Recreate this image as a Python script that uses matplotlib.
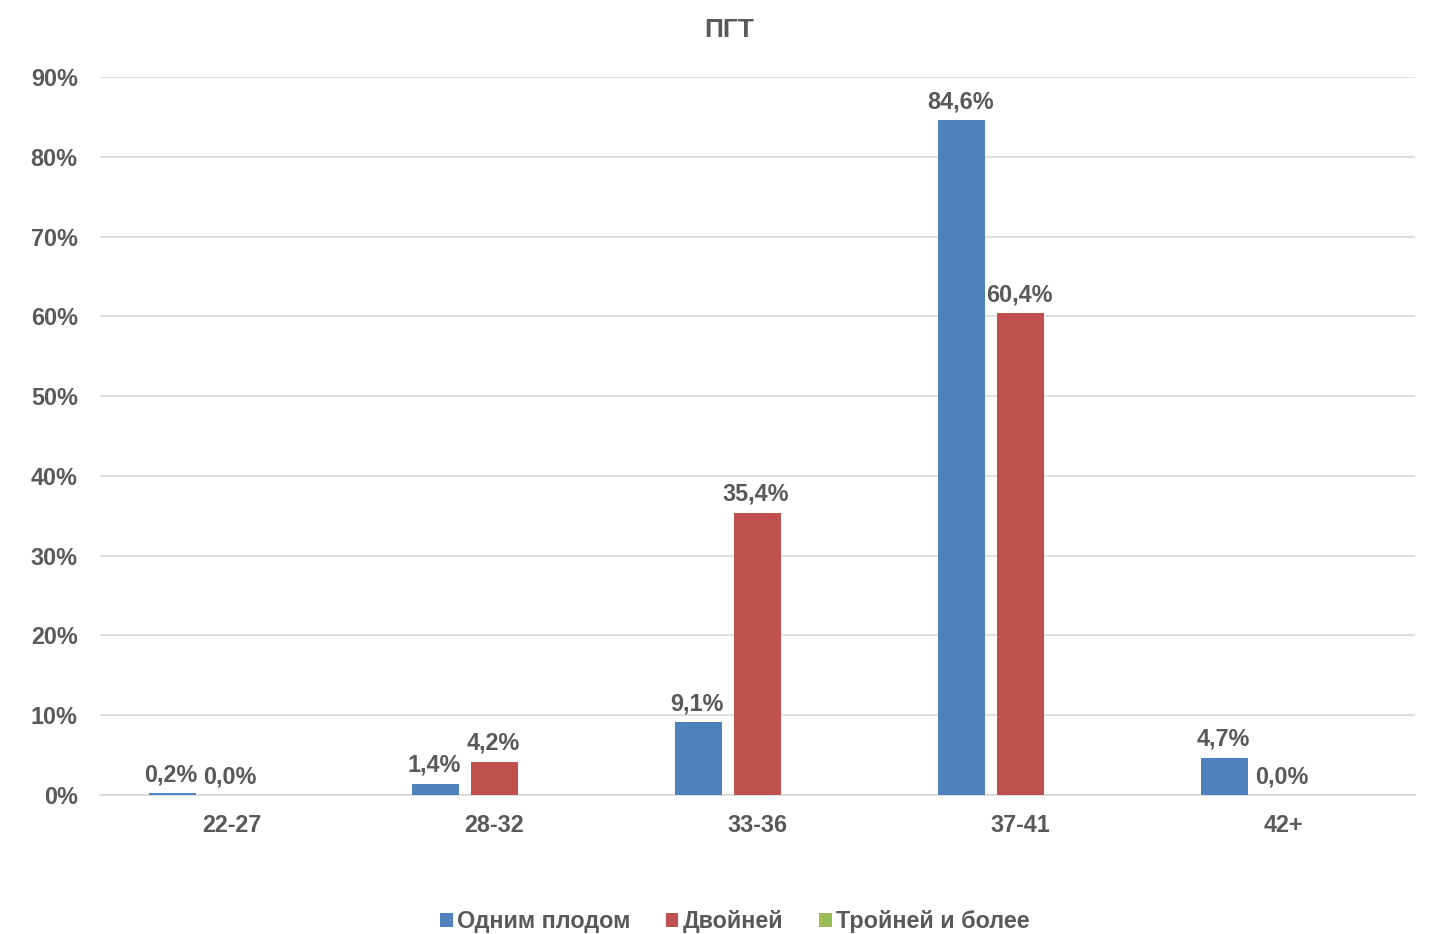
import numpy as np
import matplotlib
matplotlib.use("Agg")
import matplotlib.pyplot as plt
from matplotlib.patches import Patch

plt.rcParams['font.family'] = ['Liberation Sans', 'DejaVu Sans']

categories = ["22-27", "28-32", "33-36", "37-41", "42+"]
series_names = ["Одним плодом", "Двойней", "Тройней и более"]
single = [0.2, 1.4, 9.1, 84.6, 4.7]
twins = [0.0, 4.2, 35.4, 60.4, 0.0]
triplets = [np.nan, np.nan, np.nan, np.nan, np.nan]
colors = ["#4F81BD", "#C0504D", "#9BBB59"]
yticks = [0, 10, 20, 30, 40, 50, 60, 70, 80, 90]

text_color = "#595959"

fig = plt.figure(figsize=(14.55, 9.34), dpi=100)
ax = fig.add_axes([0.0687, 0.1488, 0.9038, 0.7688])

x = np.arange(len(categories))
offset = 0.224
width = 0.178
all_series = [single, twins, triplets]

for i, (vals, col) in enumerate(zip(all_series, colors)):
    pos = x + (i - 1) * offset
    v = np.array(vals, dtype=float)
    ax.bar(pos, np.nan_to_num(v), width=width, color=col, zorder=3)
    for p, val in zip(pos, v):
        if np.isnan(val):
            continue
        label = f"{val:.1f}%".replace(".", ",")
        ax.annotate(label, (p, val), xytext=(-1, 5), textcoords="offset points",
                    ha="center", va="bottom", fontsize=16.8, fontweight="bold",
                    color=text_color)

ax.set_xlim(-0.5, len(categories) - 0.5)
ax.set_ylim(0, 90)
ax.set_yticks(yticks)
ax.set_yticklabels([f"{t}%" for t in yticks])
ax.set_xticks(x)
ax.set_xticklabels(categories)
ax.tick_params(axis="both", length=0, labelsize=16.8, labelcolor=text_color)
ax.tick_params(axis="x", pad=13.5)
ax.tick_params(axis="y", pad=16)
for lab in ax.get_xticklabels() + ax.get_yticklabels():
    lab.set_fontweight("bold")

ax.grid(axis="y", color="#D9D9D9", linewidth=1.2, zorder=0)
for s in ["top", "right", "left"]:
    ax.spines[s].set_visible(False)
ax.spines["bottom"].set_color("#D9D9D9")
ax.spines["bottom"].set_linewidth(1.2)

fig.text(0.5015, 0.968, "ПГТ", ha="center", va="center", fontsize=19,
         fontweight="bold", color=text_color)

handles = [Patch(facecolor=c, label=n) for c, n in zip(colors, series_names)]
leg = fig.legend(handles=handles, loc="center", bbox_to_anchor=(0.505, 0.013),
                 ncol=3, frameon=False, fontsize=16.8, handlelength=0.55,
                 handleheight=0.55, handletextpad=0.2, columnspacing=1.5)
for t in leg.get_texts():
    t.set_fontweight("bold")
    t.set_color(text_color)

fig.savefig("out.png", dpi=100, facecolor="white")
